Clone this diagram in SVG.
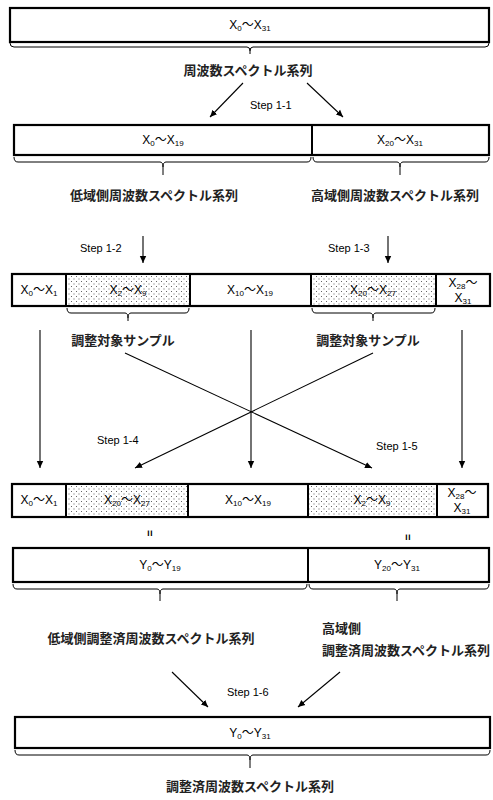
<svg xmlns="http://www.w3.org/2000/svg" width="493" height="800" viewBox="0 0 493 800">
<style>
.box{fill:#fff;stroke:#000;stroke-width:2.2}
.shade{fill:url(#dots)}
.div{stroke:#000;stroke-width:2}
.cell{font-family:"Liberation Sans","Noto Sans CJK JP",sans-serif;font-size:12px;fill:#000;text-anchor:middle}
.sub{font-size:8px}
.jp{font-family:"Noto Sans CJK JP","Liberation Sans",sans-serif;font-size:13px;font-weight:bold;fill:#222}
.mid{text-anchor:middle}
.step{font-family:"Liberation Sans",sans-serif;font-size:11px;fill:#000}
.brace{fill:none;stroke:#000;stroke-width:1}
.ln{fill:none;stroke:#000;stroke-width:1.1}
.eq{font-family:"Liberation Sans",sans-serif;font-size:11px;font-weight:bold;fill:#000}
</style>
<defs>
<pattern id="dots" width="5" height="5" patternUnits="userSpaceOnUse">
<rect width="5" height="5" fill="#fff"/>
<rect x="1" y="1" width="1" height="1" fill="#666"/>
<rect x="3.5" y="3.5" width="1" height="1" fill="#666"/>
</pattern>
<marker id="ah" markerWidth="8" markerHeight="8" refX="7" refY="4" orient="auto" markerUnits="userSpaceOnUse">
<path d="M0,0.8 L7,4 L0,7.2 Z" fill="#000"/>
</marker>
</defs>

<g id="row1">
<rect class="box" x="10" y="8" width="479" height="34"/>
<text class="cell" x="250" y="29">X<tspan class="sub" dy="2">0</tspan><tspan dy="-2">〜X</tspan><tspan class="sub" dy="2">31</tspan></text>
<path class="brace" d="M10,43 q0,4 4,4 H247 q3,0 3,4 q0,-4 3,-4 H485 q4,0 4,-4 M250,51 V54"/>
<text class="jp mid" x="248" y="75">周波数スペクトル系列</text>
</g>

<g id="row2">
<rect class="box" x="14" y="125" width="475" height="30"/>
<line class="div" x1="312" y1="125" x2="312" y2="155"/>
<text class="cell" x="163" y="144">X<tspan class="sub" dy="2">0</tspan><tspan dy="-2">〜X</tspan><tspan class="sub" dy="2">19</tspan></text>
<text class="cell" x="400" y="144">X<tspan class="sub" dy="2">20</tspan><tspan dy="-2">〜X</tspan><tspan class="sub" dy="2">31</tspan></text>
<path class="brace" d="M14,157 q0,5 4,5 H160 q3,0 3,5 q0,-5 3,-5 H307 q4,0 4,-5 M163,167 V175"/>
<path class="brace" d="M313,157 q0,5 4,5 H397 q3,0 3,5 q0,-5 3,-5 H485 q4,0 4,-5 M400,167 V175"/>
<text class="jp mid" x="154" y="200">低域側周波数スペクトル系列</text>
<text class="jp mid" x="395" y="200">高域側周波数スペクトル系列</text>
</g>

<g id="row3">
<rect class="box" x="12" y="274" width="478" height="32"/>
<rect class="shade" x="66" y="275" width="124" height="30"/>
<rect class="shade" x="311" y="275" width="125" height="30"/>
<line class="div" x1="66" y1="274" x2="66" y2="306"/>
<line class="div" x1="190" y1="274" x2="190" y2="306"/>
<line class="div" x1="311" y1="274" x2="311" y2="306"/>
<line class="div" x1="436" y1="274" x2="436" y2="306"/>
<text class="cell" x="39" y="294">X<tspan class="sub" dy="2">0</tspan><tspan dy="-2">〜X</tspan><tspan class="sub" dy="2">1</tspan></text>
<text class="cell" x="128" y="294">X<tspan class="sub" dy="2">2</tspan><tspan dy="-2">〜X</tspan><tspan class="sub" dy="2">9</tspan></text>
<text class="cell" x="250" y="294">X<tspan class="sub" dy="2">10</tspan><tspan dy="-2">〜X</tspan><tspan class="sub" dy="2">19</tspan></text>
<text class="cell" x="373" y="294">X<tspan class="sub" dy="2">20</tspan><tspan dy="-2">〜X</tspan><tspan class="sub" dy="2">27</tspan></text>
<text class="cell" x="463" y="287">X<tspan class="sub" dy="2">28</tspan><tspan dy="-2">〜</tspan></text>
<text class="cell" x="463" y="302">X<tspan class="sub" dy="2">31</tspan></text>
<path class="brace" d="M67,308 q0,5 4,5 H125 q3,0 3,5 q0,-5 3,-5 H185 q4,0 4,-5 M128,318 V321"/>
<path class="brace" d="M312,308 q0,5 4,5 H370 q3,0 3,5 q0,-5 3,-5 H431 q4,0 4,-5 M373,318 V321"/>
<text class="jp mid" x="123" y="345">調整対象サンプル</text>
<text class="jp mid" x="368" y="345">調整対象サンプル</text>
</g>

<g id="row4">
<rect class="box" x="12" y="484" width="476" height="33"/>
<rect class="shade" x="66" y="485" width="122" height="31"/>
<rect class="shade" x="308" y="485" width="129" height="31"/>
<line class="div" x1="66" y1="484" x2="66" y2="517"/>
<line class="div" x1="188" y1="484" x2="188" y2="517"/>
<line class="div" x1="308" y1="484" x2="308" y2="517"/>
<line class="div" x1="437" y1="484" x2="437" y2="517"/>
<text class="cell" x="39" y="504">X<tspan class="sub" dy="2">0</tspan><tspan dy="-2">〜X</tspan><tspan class="sub" dy="2">1</tspan></text>
<text class="cell" x="127" y="504">X<tspan class="sub" dy="2">20</tspan><tspan dy="-2">〜X</tspan><tspan class="sub" dy="2">27</tspan></text>
<text class="cell" x="248" y="504">X<tspan class="sub" dy="2">10</tspan><tspan dy="-2">〜X</tspan><tspan class="sub" dy="2">19</tspan></text>
<text class="cell" x="372" y="504">X<tspan class="sub" dy="2">2</tspan><tspan dy="-2">〜X</tspan><tspan class="sub" dy="2">9</tspan></text>
<text class="cell" x="462" y="497">X<tspan class="sub" dy="2">28</tspan><tspan dy="-2">〜</tspan></text>
<text class="cell" x="462" y="512">X<tspan class="sub" dy="2">31</tspan></text>
<text class="eq" transform="translate(146,530) rotate(90)">=</text>
<text class="eq" transform="translate(404,534) rotate(90)">=</text>
</g>

<g id="row5">
<rect class="box" x="13" y="548" width="476" height="34"/>
<line class="div" x1="308" y1="548" x2="308" y2="582"/>
<text class="cell" x="160" y="569">Y<tspan class="sub" dy="2">0</tspan><tspan dy="-2">〜Y</tspan><tspan class="sub" dy="2">19</tspan></text>
<text class="cell" x="397" y="569">Y<tspan class="sub" dy="2">20</tspan><tspan dy="-2">〜Y</tspan><tspan class="sub" dy="2">31</tspan></text>
<path class="brace" d="M13,584 q0,5 4,5 H157 q3,0 3,5 q0,-5 3,-5 H303 q4,0 4,-5 M160,594 V601"/>
<path class="brace" d="M309,584 q0,5 4,5 H394 q3,0 3,5 q0,-5 3,-5 H485 q4,0 4,-5 M397,594 V601"/>
<text class="jp mid" x="151" y="643">低域側調整済周波数スペクトル系列</text>
<text class="jp" x="322" y="633">高域側</text>
<text class="jp" x="322" y="655">調整済周波数スペクトル系列</text>
</g>

<g id="row6">
<rect class="box" x="15" y="717" width="475" height="31"/>
<text class="cell" x="250" y="737">Y<tspan class="sub" dy="2">0</tspan><tspan dy="-2">〜Y</tspan><tspan class="sub" dy="2">31</tspan></text>
<path class="brace" d="M15,750 q0,5 4,5 H247 q3,0 3,5 q0,-5 3,-5 H486 q4,0 4,-5 M250,760 V768"/>
<text class="jp mid" x="250" y="791">調整済周波数スペクトル系列</text>
</g>

<g id="connectors">
<line class="ln" x1="243" y1="83" x2="210" y2="117" marker-end="url(#ah)"/>
<line class="ln" x1="307" y1="83" x2="343" y2="117" marker-end="url(#ah)"/>
<text class="step" x="250" y="109">Step 1-1</text>
<line class="ln" x1="143" y1="236" x2="143" y2="263" marker-end="url(#ah)"/>
<text class="step" x="80" y="252">Step 1-2</text>
<line class="ln" x1="388" y1="236" x2="388" y2="263" marker-end="url(#ah)"/>
<text class="step" x="328" y="252">Step 1-3</text>
<line class="ln" x1="40" y1="330" x2="40" y2="468" marker-end="url(#ah)"/>
<line class="ln" x1="251" y1="330" x2="251" y2="468" marker-end="url(#ah)"/>
<line class="ln" x1="462" y1="330" x2="462" y2="468" marker-end="url(#ah)"/>
<line class="ln" x1="125" y1="353" x2="372" y2="468" marker-end="url(#ah)"/>
<line class="ln" x1="373" y1="353" x2="135" y2="468" marker-end="url(#ah)"/>
<text class="step" x="97" y="444">Step 1-4</text>
<text class="step" x="376" y="450">Step 1-5</text>
<line class="ln" x1="172" y1="672" x2="208" y2="707" marker-end="url(#ah)"/>
<line class="ln" x1="340" y1="672" x2="298" y2="707" marker-end="url(#ah)"/>
<text class="step" x="227" y="696">Step 1-6</text>
</g>
</svg>
